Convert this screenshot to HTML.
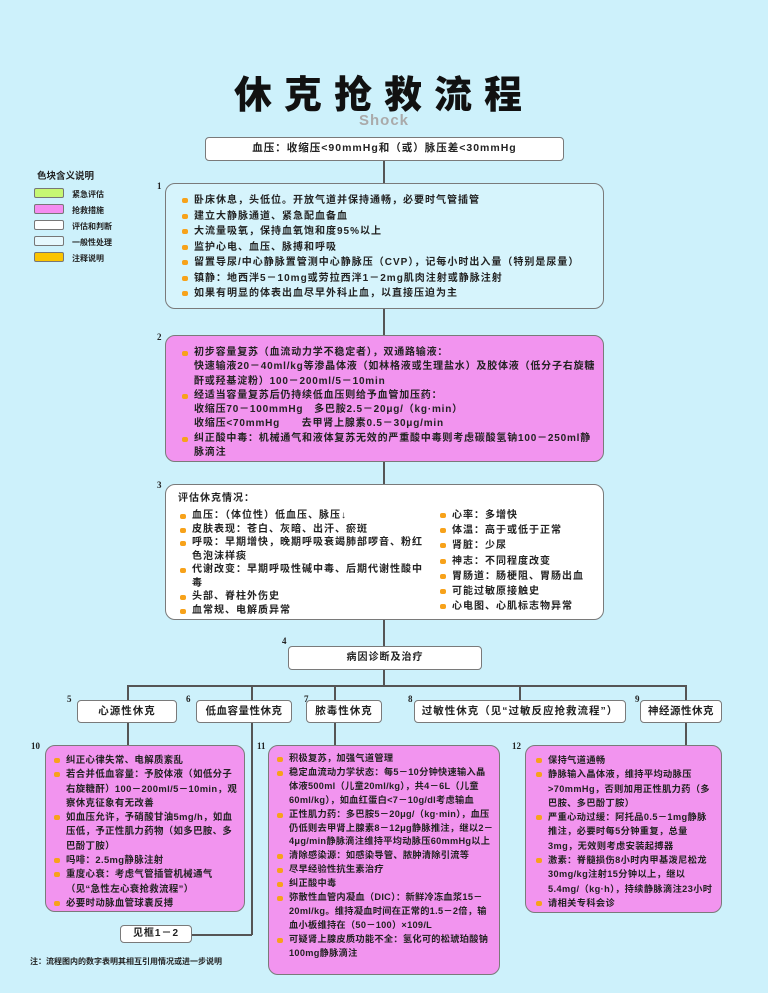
<!DOCTYPE html>
<html><head><meta charset="utf-8"><style>
*{margin:0;padding:0;box-sizing:border-box}
body{width:768px;height:993px;background:#cdf1fb;position:relative;overflow:hidden;font-family:"Liberation Sans","Noto Sans CJK SC",sans-serif;font-weight:bold;color:#222}
.a{position:absolute}
.box{position:absolute;border:1.5px solid #7a7a7a;border-radius:10px}
.sm{border-radius:4px;background:#fff;text-align:center;font-size:10.5px;letter-spacing:1px}
.pk{background:#f294ef}
.wh{background:#fff}
.lc{background:#d6f4fc}
ul{list-style:none}
li{position:relative;padding-left:14px}
li:before{content:"";position:absolute;left:2px;top:5px;width:6px;height:5px;border-radius:2px;background:#f7a21a}
.t{font-size:10px;letter-spacing:1px}
.s{font-size:9.4px;letter-spacing:0.4px;line-height:14.3px}
.hl{position:absolute;background:#555}
.num{position:absolute;font-family:"Liberation Serif",serif;font-size:9px;font-weight:bold}
.lg{position:absolute;left:34px;width:30px;height:10px;border:1px solid #777;border-radius:2px}
.lt{position:absolute;left:72px;font-size:8px}
</style></head><body>
<div class="a" style="left:0;width:768px;top:64px;text-align:center;font-size:38px;font-weight:900;letter-spacing:12px;color:#111">休克抢救流程</div>
<div class="a" style="left:0;width:768px;top:112px;text-align:center;font-size:15px;color:#aaa;letter-spacing:1px">Shock</div>

<div class="a" style="left:37px;top:168px;font-size:9.5px">色块含义说明</div>
<div class="lg" style="top:188px;background:#c7f773"></div><div class="lt" style="top:189px">紧急评估</div>
<div class="lg" style="top:204px;background:#f58cf0"></div><div class="lt" style="top:205px">抢救措施</div>
<div class="lg" style="top:220px;background:#fff"></div><div class="lt" style="top:221px">评估和判断</div>
<div class="lg" style="top:236px;background:#e6f8fd"></div><div class="lt" style="top:237px">一般性处理</div>
<div class="lg" style="top:252px;background:#fbc400"></div><div class="lt" style="top:253px">注释说明</div>

<div class="hl" style="left:383px;top:161px;width:1.5px;height:22px"></div>
<div class="hl" style="left:383px;top:309px;width:1.5px;height:26px"></div>
<div class="hl" style="left:383px;top:462px;width:1.5px;height:22px"></div>
<div class="hl" style="left:383px;top:620px;width:1.5px;height:26px"></div>
<div class="hl" style="left:383px;top:670px;width:1.5px;height:15px"></div>
<div class="hl" style="left:127px;top:685px;width:559px;height:1.5px"></div>
<div class="hl" style="left:127px;top:685px;width:1.5px;height:15px"></div>
<div class="hl" style="left:251px;top:685px;width:1.5px;height:15px"></div>
<div class="hl" style="left:334px;top:685px;width:1.5px;height:15px"></div>
<div class="hl" style="left:519px;top:685px;width:1.5px;height:15px"></div>
<div class="hl" style="left:685px;top:685px;width:1.5px;height:15px"></div>
<div class="hl" style="left:127px;top:723px;width:1.5px;height:22px"></div>
<div class="hl" style="left:251px;top:723px;width:1.5px;height:212px"></div>
<div class="hl" style="left:192px;top:934px;width:60px;height:1.5px"></div>
<div class="hl" style="left:334px;top:723px;width:1.5px;height:22px"></div>
<div class="hl" style="left:685px;top:723px;width:1.5px;height:22px"></div>

<div class="box sm" style="left:205px;top:137px;width:359px;height:24px;line-height:21px">血压：收缩压&lt;90mmHg和（或）脉压差&lt;30mmHg</div>

<div class="num" style="left:157px;top:181px">1</div>
<div class="box lc" style="left:165px;top:183px;width:439px;height:126px;padding:9px 0 0 14px">
<ul class="t" style="line-height:15.5px">
<li>卧床休息，头低位。开放气道并保持通畅，必要时气管插管</li>
<li>建立大静脉通道、紧急配血备血</li>
<li>大流量吸氧，保持血氧饱和度95%以上</li>
<li>监护心电、血压、脉搏和呼吸</li>
<li>留置导尿/中心静脉置管测中心静脉压（CVP），记每小时出入量（特别是尿量）</li>
<li>镇静：地西泮5－10mg或劳拉西泮1－2mg肌肉注射或静脉注射</li>
<li>如果有明显的体表出血尽早外科止血，以直接压迫为主</li>
</ul></div>

<div class="num" style="left:157px;top:332px">2</div>
<div class="box pk" style="left:165px;top:335px;width:439px;height:127px;padding:10px 6px 0 14px">
<ul class="t" style="line-height:14.3px;letter-spacing:0.8px">
<li>初步容量复苏（血流动力学不稳定者），双通路输液：<br>快速输液20－40ml/kg等渗晶体液（如林格液或生理盐水）及胶体液（低分子右旋糖酐或羟基淀粉）100－200ml/5－10min</li>
<li>经适当容量复苏后仍持续低血压则给予血管加压药：<br>收缩压70－100mmHg　多巴胺2.5－20μg/（kg·min）<br>收缩压&lt;70mmHg　　去甲肾上腺素0.5－30μg/min</li>
<li>纠正酸中毒：机械通气和液体复苏无效的严重酸中毒则考虑碳酸氢钠100－250ml静脉滴注</li>
</ul></div>

<div class="num" style="left:157px;top:480px">3</div>
<div class="box wh" style="left:165px;top:484px;width:439px;height:136px;padding:6px 0 0 12px">
<div class="t" style="line-height:15px">评估休克情况：</div>
<ul class="t" style="line-height:13.5px;position:absolute;left:12px;top:24px;width:248px;letter-spacing:1px">
<li>血压：（体位性）低血压、脉压↓</li>
<li>皮肤表现：苍白、灰暗、出汗、瘀斑</li>
<li>呼吸：早期增快，晚期呼吸衰竭肺部啰音、粉红色泡沫样痰</li>
<li>代谢改变：早期呼吸性碱中毒、后期代谢性酸中毒</li>
<li>头部、脊柱外伤史</li>
<li>血常规、电解质异常</li>
</ul>
<ul class="t" style="line-height:15.2px;position:absolute;left:272px;top:23px;width:165px">
<li>心率：多增快</li><li>体温：高于或低于正常</li><li>肾脏：少尿</li><li>神志：不同程度改变</li><li>胃肠道：肠梗阻、胃肠出血</li><li>可能过敏原接触史</li><li>心电图、心肌标志物异常</li>
</ul></div>

<div class="num" style="left:282px;top:636px">4</div>
<div class="box sm" style="left:288px;top:646px;width:194px;height:24px;line-height:21px;font-size:10px">病因诊断及治疗</div>

<div class="num" style="left:67px;top:694px">5</div>
<div class="box sm" style="left:77px;top:700px;width:100px;height:23px;line-height:20px">心源性休克</div>
<div class="num" style="left:186px;top:694px">6</div>
<div class="box sm" style="left:196px;top:700px;width:96px;height:23px;line-height:20px;letter-spacing:0.5px">低血容量性休克</div>
<div class="num" style="left:304px;top:694px">7</div>
<div class="box sm" style="left:306px;top:700px;width:76px;height:23px;line-height:20px">脓毒性休克</div>
<div class="num" style="left:408px;top:694px">8</div>
<div class="box sm" style="left:414px;top:700px;width:212px;height:23px;line-height:20px">过敏性休克（见“过敏反应抢救流程”）</div>
<div class="num" style="left:635px;top:694px">9</div>
<div class="box sm" style="left:640px;top:700px;width:82px;height:23px;line-height:20px;letter-spacing:0.5px">神经源性休克</div>

<div class="num" style="left:31px;top:741px">10</div>
<div class="box pk" style="left:45px;top:745px;width:200px;height:167px;padding:7px 5px 0 6px">
<ul class="s">
<li>纠正心律失常、电解质紊乱</li>
<li>若合并低血容量：予胶体液（如低分子右旋糖酐）100－200ml/5－10min，观察休克征象有无改善</li>
<li>如血压允许，予硝酸甘油5mg/h，如血压低，予正性肌力药物（如多巴胺、多巴酚丁胺）</li>
<li>吗啡：2.5mg静脉注射</li>
<li>重度心衰：考虑气管插管机械通气（见“急性左心衰抢救流程”）</li>
<li>必要时动脉血管球囊反搏</li>
</ul></div>
<div class="box sm" style="left:120px;top:925px;width:72px;height:18px;line-height:15px;font-size:10px">见框1－2</div>

<div class="num" style="left:257px;top:741px">11</div>
<div class="box pk" style="left:268px;top:745px;width:232px;height:230px;padding:6px 5px 0 6px">
<ul class="s" style="line-height:13.9px;font-size:9.2px;letter-spacing:0.3px">
<li>积极复苏，加强气道管理</li>
<li>稳定血流动力学状态：每5－10分钟快速输入晶体液500ml（儿童20ml/kg），共4－6L（儿童60ml/kg），如血红蛋白&lt;7－10g/dl考虑输血</li>
<li>正性肌力药：多巴胺5－20μg/（kg·min），血压仍低则去甲肾上腺素8－12μg静脉推注，继以2－4μg/min静脉滴注维持平均动脉压60mmHg以上</li>
<li>清除感染源：如感染导管、脓肿清除引流等</li>
<li>尽早经验性抗生素治疗</li>
<li>纠正酸中毒</li>
<li>弥散性血管内凝血（DIC）：新鲜冷冻血浆15－20ml/kg。维持凝血时间在正常的1.5－2倍，输血小板维持在（50－100）×109/L</li>
<li>可疑肾上腺皮质功能不全：氢化可的松琥珀酸钠100mg静脉滴注</li>
</ul></div>

<div class="num" style="left:512px;top:741px">12</div>
<div class="box pk" style="left:525px;top:745px;width:197px;height:168px;padding:7px 5px 0 8px">
<ul class="s" style="font-size:9.2px;letter-spacing:0.4px">
<li>保持气道通畅</li>
<li>静脉输入晶体液，维持平均动脉压&gt;70mmHg，否则加用正性肌力药（多巴胺、多巴酚丁胺）</li>
<li>严重心动过缓：阿托品0.5－1mg静脉推注，必要时每5分钟重复，总量3mg，无效则考虑安装起搏器</li>
<li>激素：脊髓损伤8小时内甲基泼尼松龙30mg/kg注射15分钟以上，继以5.4mg/（kg·h），持续静脉滴注23小时</li>
<li>请相关专科会诊</li>
</ul></div>

<div class="a" style="left:30px;top:956px;font-size:8px">注：流程图内的数字表明其相互引用情况或进一步说明</div>
</body></html>
